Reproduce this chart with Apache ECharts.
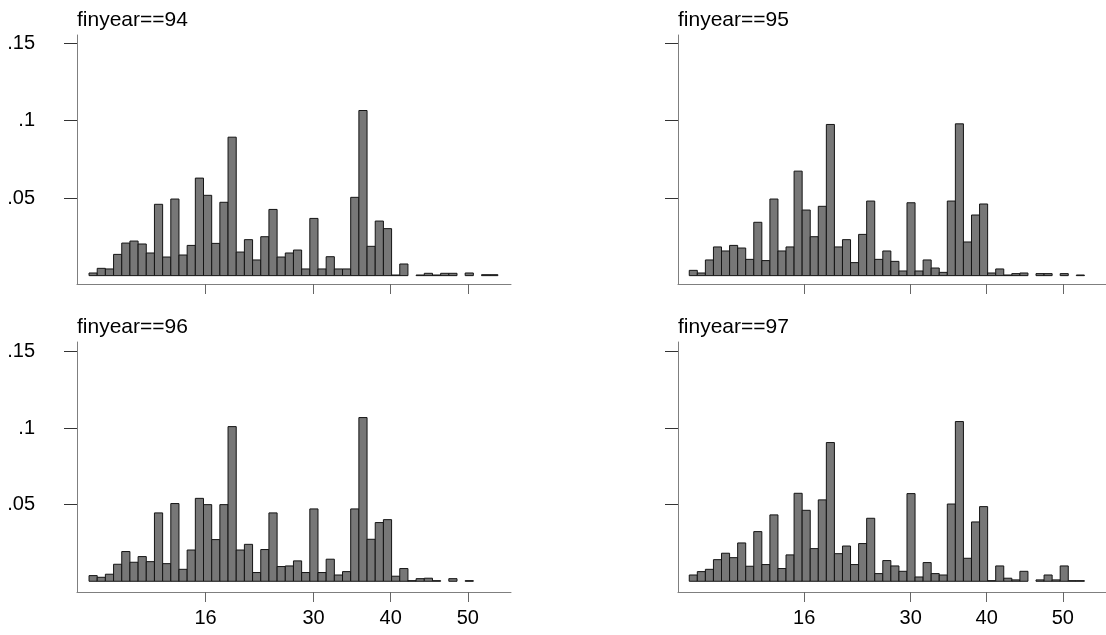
<!DOCTYPE html>
<html>
<head>
<meta charset="utf-8">
<script src="https://cdn.jsdelivr.net/npm/echarts@6/dist/echarts.min.js"></script>
<style>
  html, body { margin: 0; padding: 0; background: #fff; }
  #main { width: 1106px; height: 635px; }
</style>
</head>
<body>
<div id="main"></div>
<script>
// histogram bins: 50 bins of equal width
var binStart = 0.9;
var binWidth = 1.06;

var panelTitles = ['finyear==94', 'finyear==95', 'finyear==96', 'finyear==97'];
var yTicks = [0.05, 0.1, 0.15];
var xTicks = [16, 30, 40, 50];

// density per bin
var dens94 = [0.0017, 0.0047, 0.0043, 0.0137, 0.021, 0.0223, 0.0204, 0.0146, 0.046, 0.012,
    0.0494, 0.0133, 0.0195, 0.0629, 0.0518, 0.0208, 0.0473, 0.0893, 0.0152, 0.0232,
    0.0101, 0.0251, 0.0427, 0.012, 0.0146, 0.0165, 0.0043, 0.0369, 0.0043, 0.0122,
    0.0043, 0.0043, 0.0505, 0.1065, 0.0189, 0.0352, 0.0303, 0.0004, 0.0075, 0,
    0.0004, 0.0015, 0.0004, 0.0015, 0.0015, 0, 0.0017, 0, 0.0006, 0.0006];
var dens95 = [0.0034, 0.0017, 0.0101, 0.0185, 0.0159, 0.0195, 0.0178, 0.0105, 0.0344, 0.0097,
    0.0494, 0.0159, 0.0185, 0.0674, 0.0423, 0.0251, 0.0447, 0.0975, 0.0185, 0.0232,
    0.0084, 0.0266, 0.0481, 0.0105, 0.0159, 0.0092, 0.003, 0.047, 0.003, 0.0101,
    0.0049, 0.0021, 0.0481, 0.0979, 0.0217, 0.0391, 0.0462, 0.0017, 0.0043, 0.0004,
    0.0013, 0.0017, 0, 0.0013, 0.0013, 0, 0.0013, 0, 0.0004, 0];
var dens96 = [0.0037, 0.0026, 0.0046, 0.0111, 0.0194, 0.0124, 0.0161, 0.0128, 0.0446, 0.0115,
    0.0507, 0.0078, 0.0204, 0.0541, 0.05, 0.0272, 0.05, 0.1009, 0.0204, 0.0241,
    0.0057, 0.0207, 0.0446, 0.0096, 0.01, 0.0133, 0.0057, 0.0472, 0.0057, 0.0144,
    0.0041, 0.0063, 0.0472, 0.1068, 0.0274, 0.0383, 0.0402, 0.0033, 0.0083, 0.0004,
    0.0017, 0.002, 0.0004, 0, 0.0017, 0, 0.0004, 0, 0, 0];
var dens97 = [0.0041, 0.0063, 0.0078, 0.0141, 0.0183, 0.0154, 0.025, 0.0098, 0.0324, 0.0109,
    0.0433, 0.0083, 0.0172, 0.0574, 0.0463, 0.0213, 0.0531, 0.0905, 0.018, 0.023,
    0.0109, 0.0246, 0.0411, 0.005, 0.0135, 0.01, 0.0065, 0.0572, 0.0028, 0.0122,
    0.005, 0.0041, 0.0504, 0.1042, 0.015, 0.0387, 0.0487, 0.0004, 0.01, 0.002,
    0.0009, 0.0065, 0, 0.0009, 0.0041, 0.0009, 0.01, 0.0004, 0.0004, 0];

var allDens = [dens94, dens95, dens96, dens97];

function toBins(list) {
    var out = [];
    for (var i = 0; i < list.length; i++) {
        var s = binStart + i * binWidth;
        out.push([s, s + binWidth, list[i]]);
    }
    return out;
}

function renderBar(params, api) {
    var v = api.value(2);
    if (!(v > 0)) {
        return;
    }
    var p0 = api.coord([api.value(0), v]);
    var p1 = api.coord([api.value(1), 0]);
    return {
        type: 'rect',
        shape: {
            x: p0[0],
            y: p0[1],
            width: p1[0] - p0[0],
            height: p1[1] - p0[1]
        },
        style: {
            fill: '#777777',
            stroke: '#141414',
            lineWidth: 1
        }
    };
}

var font = 'Liberation Sans, Arial, sans-serif';
var grids = [
    {left: 77, top: 35, width: 434, height: 249},
    {left: 678, top: 35, width: 436, height: 249},
    {left: 77, top: 342, width: 434, height: 250},
    {left: 678, top: 342, width: 436, height: 250}
];
var xRange = [[-0.66, 55.6], [-0.58, 55.68], [-0.66, 55.6], [-0.58, 55.68]];
var yRange = [[-0.0054, 0.1552], [-0.0054, 0.1552], [-0.007, 0.1561], [-0.007, 0.1561]];

var option = {
    animation: false,
    backgroundColor: '#ffffff',
    title: [],
    grid: [],
    xAxis: [],
    yAxis: [],
    series: []
};

for (var k = 0; k < 4; k++) {
    var isLeft = (k % 2 == 0);
    var isBottom = (k >= 2);
    option.grid.push(grids[k]);
    option.title.push({
        text: panelTitles[k],
        left: grids[k].left,
        top: grids[k].top - 25,
        padding: 0,
        textStyle: {
            fontFamily: font,
            fontSize: 21,
            fontWeight: 'normal',
            color: '#000'
        }
    });
    option.xAxis.push({
        type: 'value',
        gridIndex: k,
        min: xRange[k][0],
        max: xRange[k][1],
        splitLine: {show: false},
        axisLine: {show: true, onZero: false, lineStyle: {color: '#7f7f7f', width: 1}},
        axisTick: {
            show: true,
            customValues: xTicks,
            length: 10,
            lineStyle: {color: '#666666', width: 1}
        },
        axisLabel: {
            show: isBottom,
            customValues: xTicks,
            margin: 16,
            fontFamily: font,
            fontSize: 20,
            color: '#000'
        }
    });
    option.yAxis.push({
        type: 'value',
        gridIndex: k,
        min: yRange[k][0],
        max: yRange[k][1],
        splitLine: {show: false},
        axisLine: {show: true, onZero: false, lineStyle: {color: '#7f7f7f', width: 1}},
        axisTick: {
            show: true,
            customValues: yTicks,
            length: 13,
            lineStyle: {color: '#333333', width: 1}
        },
        axisLabel: {
            show: isLeft,
            customValues: yTicks,
            margin: 42,
            fontFamily: font,
            fontSize: 20,
            color: '#000',
            formatter: function (v) {
                return String(v).replace(/^0/, '');
            }
        }
    });
    option.series.push({
        type: 'custom',
        xAxisIndex: k,
        yAxisIndex: k,
        renderItem: renderBar,
        encode: {x: [0, 1], y: 2},
        data: toBins(allDens[k])
    });
}

var chart = echarts.init(document.getElementById('main'));
chart.setOption(option);
</script>
</body>
</html>
